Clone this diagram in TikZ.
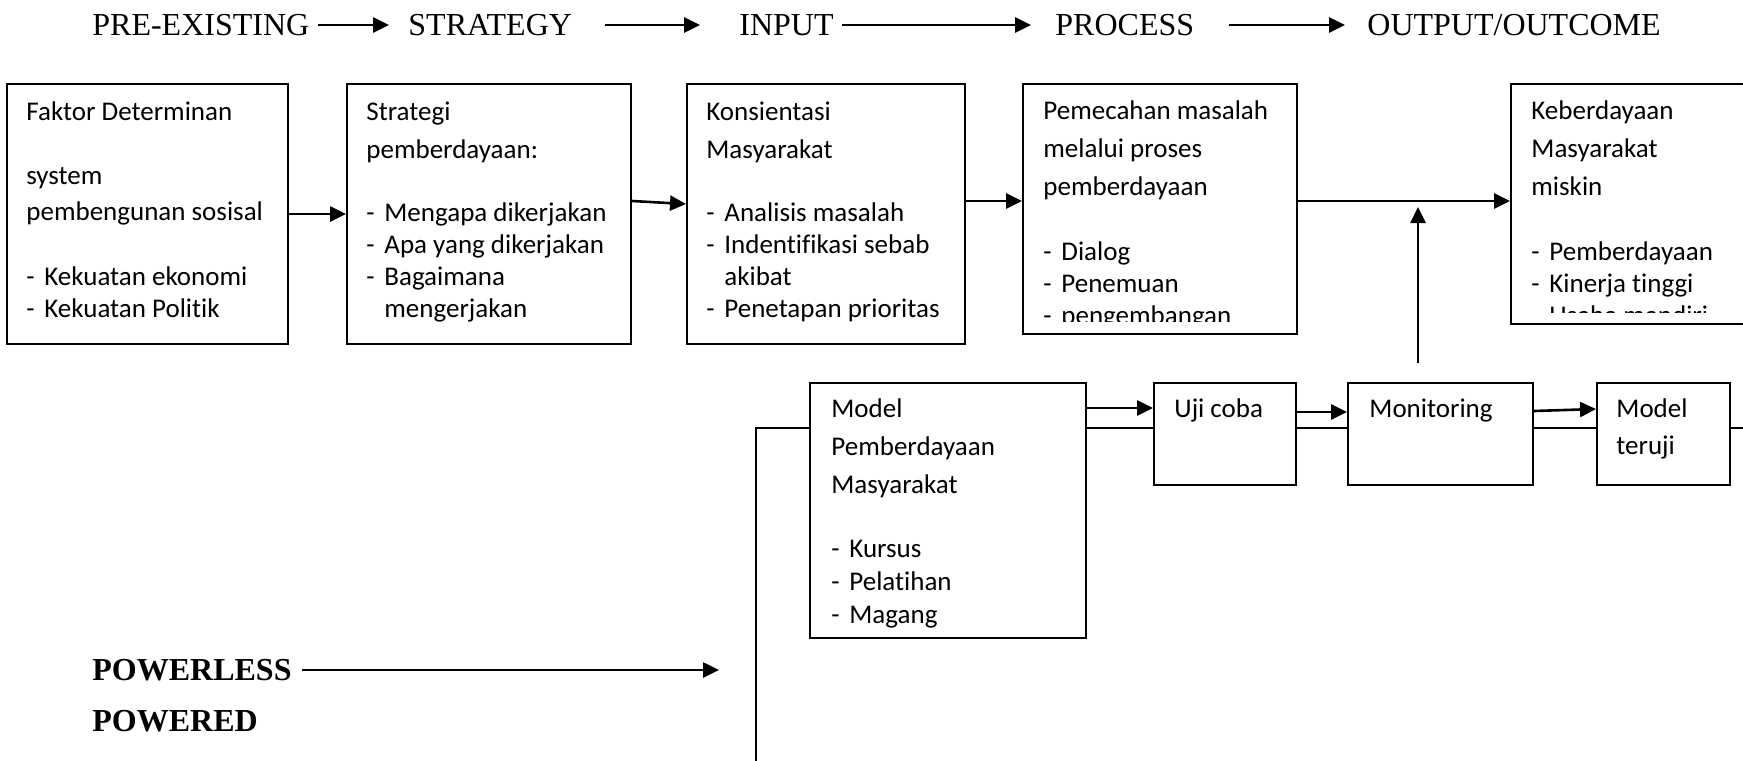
\documentclass[tikz,border=0pt]{standalone}
\usepackage{fontspec}
\setmainfont{Carlito}[Ligatures=NoCommon]
\newfontfamily\timesfont{Liberation Serif}
\usetikzlibrary{arrows.meta}
\newcommand\itm[1]{\makebox[9pt][l]{-}#1}
\newcommand\cnt[1]{\hspace*{9pt}#1}
\begin{document}
\begin{tikzpicture}[x=0.5pt, y=-0.5pt,
	box/.style={draw, line width=1pt, fill=white, inner sep=0pt, anchor=north west},
	txt/.style={font={\fontsize{13.5}{16}\selectfont}, align=left, inner sep=0pt, anchor=north west},
	hd/.style={font={\timesfont\fontsize{16}{19}\selectfont}, inner sep=0pt, anchor=west, text height=10.6pt, text depth=0pt},
	pw/.style={hd, font={\timesfont\bfseries\fontsize{16}{19}\selectfont}, text height=10.8pt},
	arr/.style={-{Triangle[length=8pt, width=7.5pt]}, line width=1.3pt}]
	\clip (0, 0) rectangle (1743, 760);
	\node[hd] (pre) at (92, 25) {PRE-EXISTING};
	\node[hd] (strat) at (408, 25) {STRATEGY};
	\node[hd] (inp) at (739, 25) {INPUT};
	\node[hd] (proc) at (1055, 25) {PROCESS};
	\node[hd] (outc) at (1367, 25) {OUTPUT/OUTCOME};
	\draw[arr, shorten <=4pt, shorten >=9.5pt] (pre) -- (strat);
	\draw[arr, shorten <=16.5pt, shorten >=19.5pt] (strat) -- (inp);
	\draw[arr, shorten <=4pt, shorten >=12pt] (inp) -- (proc);
	\draw[arr, shorten <=17pt, shorten >=11pt] (proc) -- (outc);
	\node[box, minimum width=140.5pt, minimum height=130pt] (fd) at (6, 83) {};
	\node[txt] (fdt) at ([shift={(10pt, -7.5pt)}]fd.north west) {\strut Faktor Determinan\\[16pt] system\\[2pt] pembengunan sosisal\\[16.5pt] \itm{Kekuatan ekonomi}\\ \itm{Kekuatan Politik}};
	\node[box, minimum width=142pt, minimum height=130pt] (sp) at (346, 83) {};
	\node[txt] (spt) at ([shift={(10pt, -7.5pt)}]sp.north west) {\strut Strategi\\[3pt] pemberdayaan:\\[15.5pt] \itm{Mengapa dikerjakan}\\ \itm{Apa yang dikerjakan}\\ \itm{Bagaimana}\\ \cnt{mengerjakan}};
	\node[box, minimum width=139pt, minimum height=130pt] (km) at (686, 83) {};
	\node[txt] (kmt) at ([shift={(10pt, -7.5pt)}]km.north west) {\strut Konsientasi\\[3pt] Masyarakat\\[15.5pt] \itm{Analisis masalah}\\ \itm{Indentifikasi sebab}\\ \cnt{akibat}\\ \itm{Penetapan prioritas}};
	\node[box, minimum width=137pt, minimum height=125pt] (pm) at (1022, 83) {};
	\begin{scope}
		\clip (pm.north west) rectangle ([yshift=7pt]pm.south east);
		\node[txt] (pmt) at ([shift={(10.5pt, -7pt)}]pm.north west) {\strut Pemecahan masalah\\[3pt] melalui proses\\[3pt] pemberdayaan\\[16.5pt] \itm{Dialog}\\ \itm{Penemuan}\\ \itm{pengembangan}};
	\end{scope}
	\node[box, minimum width=130pt, minimum height=120pt] (kb) at (1510, 83) {};
	\begin{scope}
		\clip (kb.north west) rectangle ([yshift=6.5pt]kb.south east);
		\node[txt] (kbt) at ([shift={(10.5pt, -7pt)}]kb.north west) {\strut Keberdayaan\\[3pt] Masyarakat\\[3pt] miskin\\[16.5pt] \itm{Pemberdayaan}\\ \itm{Kinerja tinggi}\\ \itm{Usaha mandiri}};
	\end{scope}
	\draw[arr] (fd) -- (sp);
	\draw[arr] ([yshift=6.5pt]sp.east) -- ([yshift=5pt]km.west);
	\draw[arr] ([yshift=6.5pt]km.east) -- ([yshift=4pt]pm.west);
	\draw[arr] ([yshift=4pt]pm.east) -- ([yshift=1.5pt]kb.west);
	\coordinate (vfoot) at (1418, 363);
	\coordinate (vtip) at (1418, 207);
	\draw[arr] (vfoot) -- (vtip);
	\coordinate (lfoot) at (756, 765);
	\coordinate (lend) at (1750, 428);
	\draw[line width=1.1pt] (lfoot) |- (lend);
	\node[box, minimum width=138pt, minimum height=127.5pt] (mpm) at (809, 382) {};
	\node[txt] (mpmt) at ([shift={(11pt, -6.5pt)}]mpm.north west) {\strut Model\\[3pt] Pemberdayaan\\[3pt] Masyarakat\\[16pt] \itm{Kursus}\\[0.5pt] \itm{Pelatihan}\\[0.5pt] \itm{Magang}};
	\node[box, minimum width=71pt, minimum height=51pt] (uji) at (1153, 382) {};
	\node[txt] (ujit) at ([shift={(10.5pt, -6.5pt)}]uji.north west) {\strut Uji coba};
	\node[box, minimum width=92.5pt, minimum height=51pt] (mon) at (1347, 382) {};
	\node[txt] (mont) at ([shift={(11pt, -6.5pt)}]mon.north west) {\strut Monitoring};
	\node[box, minimum width=66.5pt, minimum height=51pt] (mt) at (1596, 382) {};
	\node[txt] (mtt) at ([shift={(10pt, -6.5pt)}]mt.north west) {\strut Model\\[2.5pt] teruji};
	\draw[arr] ([yshift=-13pt]mpm.north east) -- ([yshift=-13pt]uji.north west);
	\draw[arr] ([yshift=-15pt]uji.north east) -- ([yshift=-15pt]mon.north west);
	\draw[arr] ([yshift=-14.5pt]mon.north east) -- ([yshift=-13.5pt]mt.north west);
	\node[pw] (pl) at (92, 670) {POWERLESS};
	\node[pw] (pd) at (92, 721) {POWERED};
	\coordinate (plend) at (719, 670);
	\draw[arr, shorten <=5pt] (pl) -- (plend);
\end{tikzpicture}
\end{document}
